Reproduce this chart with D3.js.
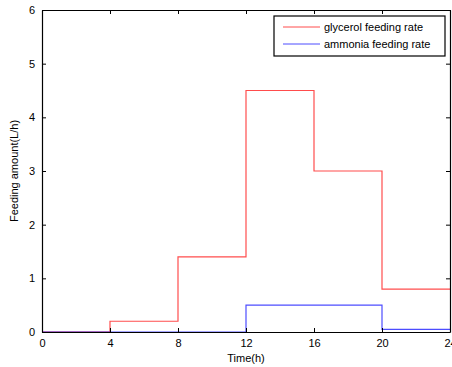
<!DOCTYPE html>
<html>
<head>
<meta charset="utf-8">
<script src="https://cdn.jsdelivr.net/npm/d3@7"></script>
<style>
  body { margin: 0; background: #fff; }
  text { font-family: "Liberation Sans", Arial, sans-serif; font-size: 11px; fill: #000; }
</style>
</head>
<body>
<svg id="chart" width="452" height="367"></svg>
<script>
// step edges (hours) and the level held on each interval
var timeEdges = [0, 4, 8, 12, 16, 20, 24];
var glycerolRate = [0, 0.2, 1.4, 4.5, 3.0, 0.8];
var ammoniaRate = [0, 0, 0, 0.5, 0.5, 0.05];
var xTicks = [0, 4, 8, 12, 16, 20, 24];
var yTicks = [0, 1, 2, 3, 4, 5, 6];
var seriesNames = ["glycerol feeding rate", "ammonia feeding rate"];
var seriesColors = ["#ff0000", "#0000ff"];

var margin = { top: 10, right: 2, bottom: 35, left: 42 },
    width = 452 - margin.left - margin.right,
    height = 367 - margin.top - margin.bottom;

var svg = d3.select("#chart")
  .append("g")
  .attr("transform", "translate(" + margin.left + "," + margin.top + ")");

var x = d3.scaleLinear().domain([0, 24]).range([0, 408]);
var y = d3.scaleLinear().domain([0, 6]).range([height, 0]);

// turn levels into step points
function stepPoints(levels) {
  var pts = [];
  levels.forEach(function (v, i) {
    pts.push([timeEdges[i], v]);
    pts.push([timeEdges[i + 1], v]);
  });
  return pts;
}

var line = d3.line()
  .x(function (d) { return x(d[0]); })
  .y(function (d) { return y(d[1]); });

// clip to axes
svg.append("clipPath").attr("id", "clip")
  .append("rect").attr("x", 0).attr("y", 0).attr("width", 408).attr("height", height + 1);

[glycerolRate, ammoniaRate].forEach(function (s, i) {
  svg.append("path")
    .attr("clip-path", "url(#clip)")
    .attr("d", line(stepPoints(s)))
    .style("fill", "none")
    .style("stroke", seriesColors[i])
    .style("stroke-opacity", 0.7)
    .style("stroke-width", 1.2);
});

// axes (ticks pointing inward, MATLAB style)
svg.append("g")
  .attr("transform", "translate(0," + height + ")")
  .call(d3.axisBottom(x).tickValues(xTicks).tickSizeInner(-4).tickSizeOuter(0).tickPadding(7));
svg.append("g")
  .call(d3.axisTop(x).tickValues(xTicks).tickSizeInner(-4).tickSizeOuter(0).tickFormat(""));
svg.append("g")
  .call(d3.axisLeft(y).tickValues(yTicks).tickFormat(d3.format("d")).tickSizeInner(-4).tickSizeOuter(0).tickPadding(7));
svg.append("g")
  .attr("transform", "translate(408,0)")
  .call(d3.axisRight(y).tickValues(yTicks).tickSizeInner(-4).tickSizeOuter(0).tickFormat(""));

svg.selectAll(".domain").style("stroke", "#000").style("stroke-width", 1.2);
svg.selectAll(".tick line").style("stroke", "#000");
svg.selectAll(".tick text").style("font-size", "11px").style("font-family", "Liberation Sans, Arial, sans-serif");

// axis labels
svg.append("text")
  .attr("x", 204)
  .attr("y", height + 30)
  .style("text-anchor", "middle")
  .text("Time(h)");

svg.append("text")
  .attr("transform", "translate(-24," + (height / 2) + ") rotate(-90)")
  .style("text-anchor", "middle")
  .text("Feeding amount(L/h)");

// legend
var legend = svg.append("g").attr("transform", "translate(232,6)");
legend.append("rect")
  .attr("width", 171).attr("height", 40)
  .style("fill", "#fff").style("stroke", "#000").style("stroke-width", 1.2);
seriesNames.forEach(function (name, i) {
  var ly = 11 + i * 17;
  legend.append("line")
    .attr("x1", 9).attr("x2", 46).attr("y1", ly).attr("y2", ly)
    .style("stroke", seriesColors[i]).style("stroke-opacity", 0.7);
  legend.append("text")
    .attr("x", 50).attr("y", ly + 4)
    .text(name);
});
</script>
</body>
</html>
